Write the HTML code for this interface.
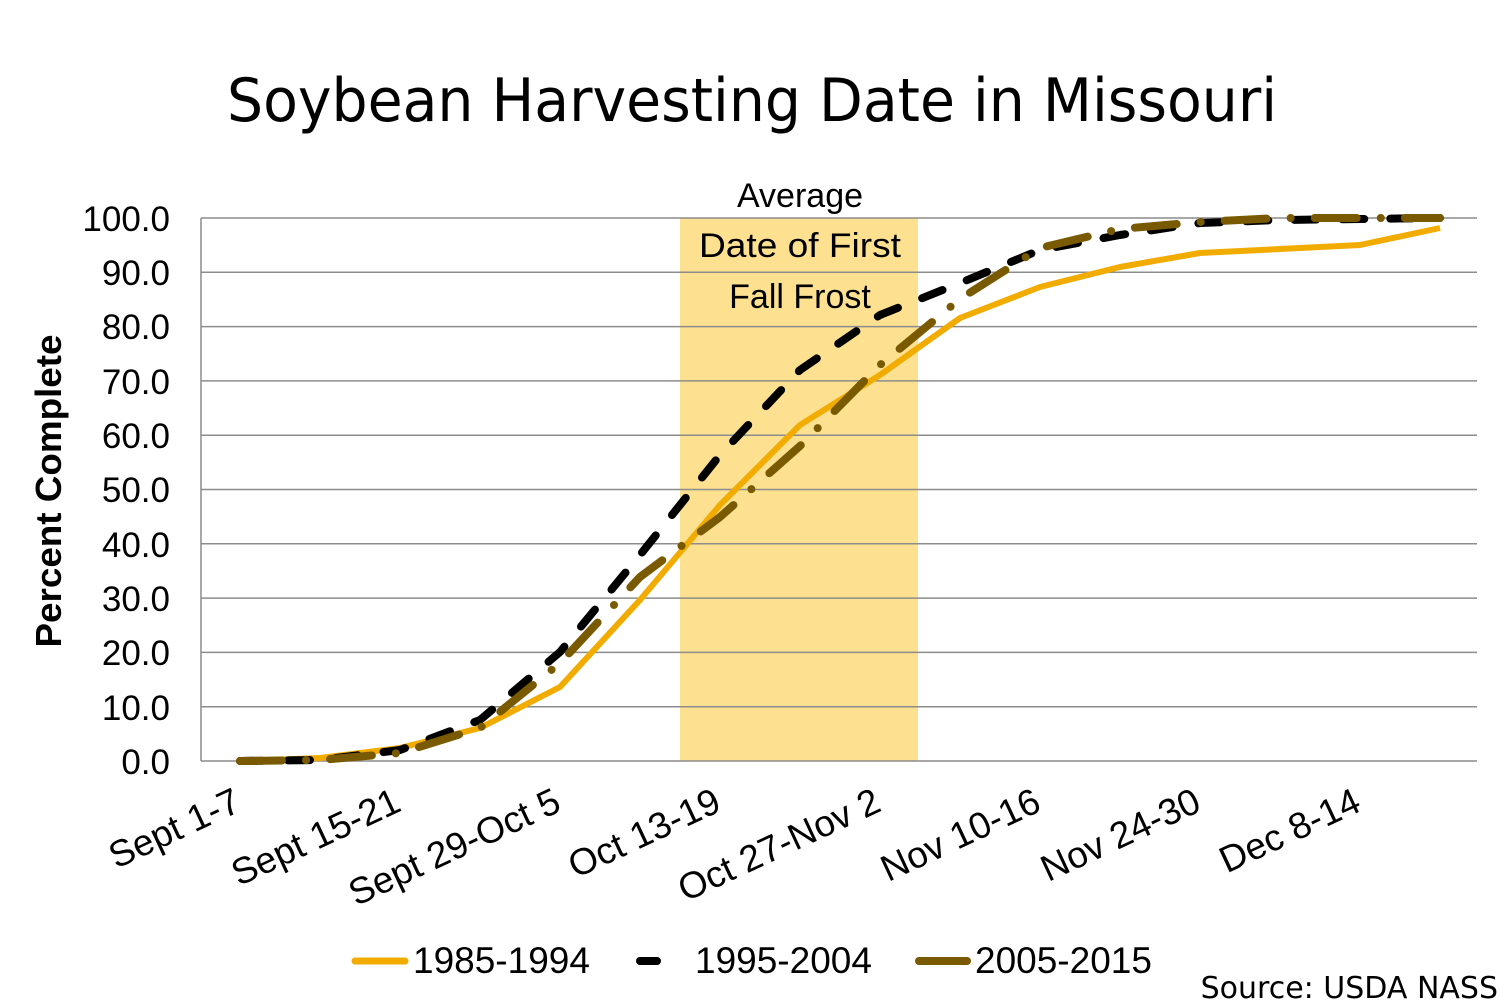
<!DOCTYPE html>
<html><head><meta charset="utf-8"><style>
body{margin:0;background:#fff}
svg text{font-family:"Liberation Sans",sans-serif}
</style></head><body>
<svg width="1500" height="1000" viewBox="0 0 1500 1000" xmlns="http://www.w3.org/2000/svg">
<rect width="1500" height="1000" fill="#fff"/>
<text x="752" y="121" font-size="60" text-anchor="middle" fill="#000" style="font-family:'DejaVu Sans','Liberation Sans',sans-serif" textLength="1050" lengthAdjust="spacingAndGlyphs">Soybean Harvesting Date in Missouri</text>
<rect x="680" y="218" width="238" height="543" fill="#FDE191"/>
<g stroke="#8c8c8c" stroke-width="1.5">
<line x1="201" y1="218" x2="1477" y2="218"/>
<line x1="201" y1="272.3" x2="1477" y2="272.3"/>
<line x1="201" y1="326.6" x2="1477" y2="326.6"/>
<line x1="201" y1="380.9" x2="1477" y2="380.9"/>
<line x1="201" y1="435.2" x2="1477" y2="435.2"/>
<line x1="201" y1="489.5" x2="1477" y2="489.5"/>
<line x1="201" y1="543.8" x2="1477" y2="543.8"/>
<line x1="201" y1="598.1" x2="1477" y2="598.1"/>
<line x1="201" y1="652.4" x2="1477" y2="652.4"/>
<line x1="201" y1="706.7" x2="1477" y2="706.7"/>
<line x1="201" y1="761" x2="1477" y2="761"/>
<line x1="201" y1="218" x2="201" y2="761"/>
</g>
<g font-size="35" text-anchor="end" fill="#000">
<text x="170" y="231">100.0</text>
<text x="170" y="285">90.0</text>
<text x="170" y="339">80.0</text>
<text x="170" y="394">70.0</text>
<text x="170" y="448">60.0</text>
<text x="170" y="502">50.0</text>
<text x="170" y="557">40.0</text>
<text x="170" y="611">30.0</text>
<text x="170" y="665">20.0</text>
<text x="170" y="720">10.0</text>
<text x="170" y="774">0.0</text>
</g>
<text transform="translate(61,491) rotate(-90)" font-size="36" font-weight="bold" text-anchor="middle" textLength="313" lengthAdjust="spacingAndGlyphs">Percent Complete</text>
<g font-size="34" fill="#000" text-anchor="middle" style="font-family:'DejaVu Sans','Liberation Sans',sans-serif">
<text x="800" y="207">Average</text>
<text x="800" y="257" textLength="202" lengthAdjust="spacingAndGlyphs">Date of First</text>
<text x="800" y="308">Fall Frost</text>
</g>
<g font-size="37" text-anchor="end" fill="#000">
<text transform="translate(243,810) rotate(-25)">Sept 1-7</text>
<text transform="translate(403,810) rotate(-25)">Sept 15-21</text>
<text transform="translate(563,810) rotate(-25)">Sept 29-Oct 5</text>
<text transform="translate(723,810) rotate(-25)">Oct 13-19</text>
<text transform="translate(883,810) rotate(-25)">Oct 27-Nov 2</text>
<text transform="translate(1043,810) rotate(-25)">Nov 10-16</text>
<text transform="translate(1203,810) rotate(-25)">Nov 24-30</text>
<text transform="translate(1363,810) rotate(-25)">Dec 8-14</text>
</g>
<polyline fill="none" stroke="#F2AC00" stroke-width="6" stroke-linejoin="round" points="240,761 320,758 400,748 480,728 560,687 640,600 720,505 800,425 880,375 960,318 1040,287 1120,267 1200,253 1280,249 1360,245 1440,228"/>
<polyline fill="none" stroke="#000" stroke-width="8" stroke-linecap="round" stroke-linejoin="round" stroke-dasharray="22 26" points="240,761 320,760 400,750 480,720 560,652 640,555 720,455 800,370 880,315 960,283 1040,250 1120,235 1200,223 1280,220 1360,219 1440,218"/>
<polyline fill="none" stroke="#7A5A00" stroke-width="8" stroke-linecap="round" stroke-linejoin="round" stroke-dasharray="42 24 0.1 24" points="240,761 320,760 400,753 480,728 560,663 640,577 720,517 800,446 880,365 960,299 1040,248 1120,229 1200,222 1280,218 1360,218 1440,218"/>
<line x1="355" y1="961" x2="405" y2="961" stroke="#F2AC00" stroke-width="7" stroke-linecap="round"/>
<text x="413" y="973" font-size="37">1985-1994</text>
<line x1="640" y1="961" x2="657" y2="961" stroke="#000" stroke-width="8" stroke-linecap="round"/>
<text x="695" y="973" font-size="37">1995-2004</text>
<line x1="919" y1="961" x2="967" y2="961" stroke="#7A5A00" stroke-width="8" stroke-linecap="round"/>
<text x="975" y="973" font-size="37">2005-2015</text>
<text x="1498" y="998" font-size="30" text-anchor="end" style="font-family:'DejaVu Sans','Liberation Sans',sans-serif">Source: USDA NASS</text>
</svg>
</body></html>
